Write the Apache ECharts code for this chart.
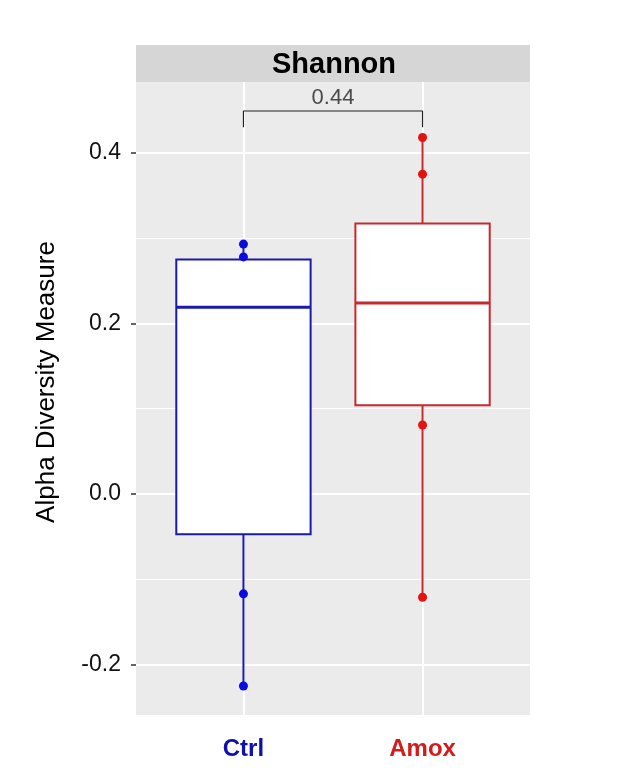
<!DOCTYPE html>
<html>
<head>
<meta charset="utf-8">
<script src="https://cdn.jsdelivr.net/npm/echarts@6/dist/echarts.min.js"></script>
<style>
  html, body { margin: 0; padding: 0; background: #fff; }
  #chart { width: 622px; height: 777px; }
</style>
</head>
<body>
<div id="chart"></div>
<script>
// groups and box statistics (lower whisker, Q1, median, Q3, upper whisker)
var groups = ['Ctrl', 'Amox'];
var groupPos = [1, 2];
var lowerW = [-0.225, -0.121];
var q1 = [-0.047, 0.104];
var median = [0.219, 0.224];
var q3 = [0.275, 0.317];
var upperW = [0.293, 0.418];
// individual points shown
var ctrlPoints = [0.293, 0.278, -0.117, -0.225];
var amoxPoints = [0.418, 0.375, 0.081, -0.121];
// significance bracket
var pText = '0.44';
var bracketTop = 0.449;
var bracketEnd = 0.43;
var pTextY = 0.464;
// axis ticks
var yTicks = [-0.2, 0, 0.2, 0.4];
var yMinor = [-0.1, 0.1, 0.3];

var boxColor = ['#1a1aae', '#c42a2e'];
var pointColor = ['#0a0ae0', '#e61212'];
var labelColor = ['#1010b0', '#d41a1a'];
var fontFam = '"Liberation Sans", Arial, sans-serif';

var chart = echarts.init(document.getElementById('chart'), null, {renderer: 'canvas'});

var boxData = groups.map(function (g, i) {
    return [groupPos[i], lowerW[i], q1[i], median[i], q3[i], upperW[i], i];
});

function renderBox(params, api) {
    var x = api.value(0);
    var ci = api.value(6);
    var half = api.size([0.75, 0])[0] / 2;
    var pLow = api.coord([x, api.value(1)]);
    var pQ1 = api.coord([x, api.value(2)]);
    var pMed = api.coord([x, api.value(3)]);
    var pQ3 = api.coord([x, api.value(4)]);
    var pUp = api.coord([x, api.value(5)]);
    var col = boxColor[ci];
    return {
        type: 'group',
        children: [
            {type: 'line', shape: {x1: pLow[0], y1: pLow[1], x2: pQ1[0], y2: pQ1[1]},
             style: {stroke: col, lineWidth: 2}},
            {type: 'line', shape: {x1: pQ3[0], y1: pQ3[1], x2: pUp[0], y2: pUp[1]},
             style: {stroke: col, lineWidth: 2}},
            {type: 'rect', shape: {x: pQ3[0] - half, y: pQ3[1], width: half * 2, height: pQ1[1] - pQ3[1]},
             style: {fill: '#fff', stroke: col, lineWidth: 2}},
            {type: 'line', shape: {x1: pMed[0] - half, y1: pMed[1], x2: pMed[0] + half, y2: pMed[1]},
             style: {stroke: col, lineWidth: 3}}
        ]
    };
}

var gridLines = [];
yTicks.forEach(function (v) { gridLines.push({yAxis: v, lineStyle: {width: 2}}); });
yMinor.forEach(function (v) { gridLines.push({yAxis: v, lineStyle: {width: 1}}); });
groupPos.forEach(function (v) { gridLines.push({xAxis: v, lineStyle: {width: 2}}); });

var option = {
    animation: false,
    grid: {
        left: 136, right: 92, top: 82, bottom: 62,
        show: true, backgroundColor: '#ebebeb', borderWidth: 0
    },
    graphic: [
        {type: 'rect', left: 136, top: 45, shape: {width: 394, height: 37},
         style: {fill: '#d6d6d6'}},
        {type: 'text', x: 334, y: 65,
         style: {text: 'Shannon', fill: '#000', font: 'bold 29px ' + fontFam,
                 align: 'center', verticalAlign: 'middle'}},
        {type: 'text', x: 47, y: 382, rotation: Math.PI / 2,
         style: {text: 'Alpha Diversity Measure', fill: '#000', font: '26px ' + fontFam,
                 align: 'center', verticalAlign: 'middle'}}
    ],
    xAxis: {
        type: 'value', min: 0.4, max: 2.6,
        axisLine: {show: false},
        splitLine: {show: false},
        axisTick: {show: true, customValues: groupPos, length: 4, lineStyle: {color: '#333', width: 1.5}},
        axisLabel: {
            customValues: groupPos, margin: 22,
            fontFamily: fontFam, fontSize: 24, fontWeight: 'bold',
            formatter: function (v) {
                var i = groupPos.indexOf(v);
                return '{g' + i + '|' + groups[i] + '}';
            },
            rich: {
                g0: {color: labelColor[0], fontSize: 24, fontWeight: 'bold', fontFamily: fontFam},
                g1: {color: labelColor[1], fontSize: 24, fontWeight: 'bold', fontFamily: fontFam}
            }
        }
    },
    yAxis: {
        type: 'value', min: -0.259, max: 0.483,
        axisLine: {show: false},
        splitLine: {show: false},
        axisTick: {show: true, customValues: yTicks, length: 5, lineStyle: {color: '#333', width: 1.5}},
        axisLabel: {
            customValues: yTicks, margin: 15,
            fontSize: 23, color: '#111', fontFamily: fontFam,
            formatter: function (v) { return v.toFixed(1); }
        }
    },
    series: [
        {
            type: 'line', data: [], silent: true, z: 1,
            markLine: {
                silent: true, z: 1, symbol: ['none', 'none'], label: {show: false},
                lineStyle: {color: '#fff', type: 'solid'},
                data: gridLines
            }
        },
        {
            type: 'custom', renderItem: renderBox, data: boxData, z: 3,
            encode: {x: 0, y: [1, 2, 3, 4, 5]}
        },
        {
            type: 'scatter', z: 4, symbolSize: 9,
            itemStyle: {color: pointColor[0], opacity: 1},
            data: ctrlPoints.map(function (v) { return [groupPos[0], v]; })
        },
        {
            type: 'scatter', z: 4, symbolSize: 9,
            itemStyle: {color: pointColor[1], opacity: 1},
            data: amoxPoints.map(function (v) { return [groupPos[1], v]; })
        },
        {
            type: 'line', z: 3, symbol: 'none', silent: true,
            lineStyle: {color: '#222', width: 1.2},
            data: [[groupPos[0], bracketEnd], [groupPos[0], bracketTop],
                   [groupPos[1], bracketTop], [groupPos[1], bracketEnd]]
        },
        {
            type: 'scatter', z: 4, symbolSize: 0, silent: true,
            label: {show: true, position: 'inside', formatter: pText, fontSize: 22, color: '#222',
                    fontFamily: fontFam},
            data: [[(groupPos[0] + groupPos[1]) / 2, pTextY]]
        }
    ]
};
chart.setOption(option);
</script>
</body>
</html>
